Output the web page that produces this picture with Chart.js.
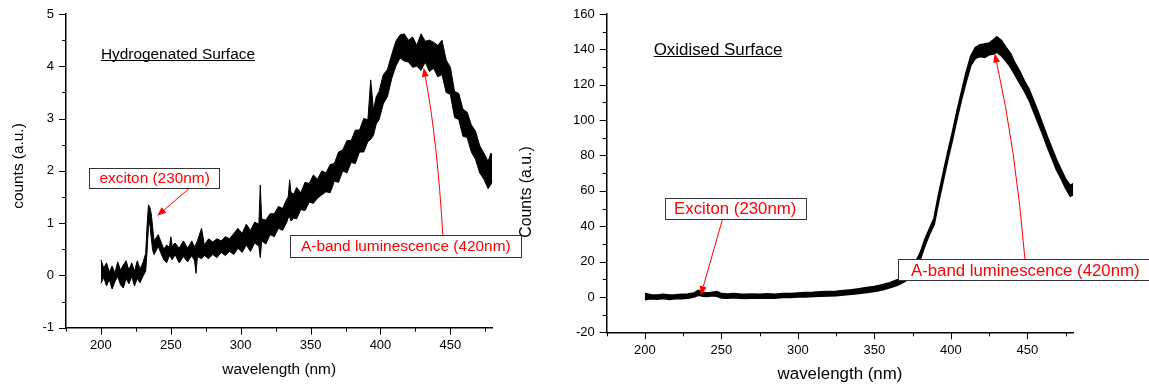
<!DOCTYPE html>
<html>
<head>
<meta charset="utf-8">
<script src="https://cdn.jsdelivr.net/npm/chart.js@4.4.0/dist/chart.umd.min.js"></script>
<style>
  body { margin: 0; background: #fff; }
  #wrap { position: relative; width: 1149px; height: 384px; overflow: hidden; }
  canvas { position: absolute; top: 0; }
</style>
</head>
<body>
<div id="wrap">
  <canvas id="graficoH" width="540" height="384" style="left:0px"></canvas>
  <canvas id="graficoO" width="649" height="384" style="left:500px"></canvas>
</div>
<script>
// ticks (same wavelength axis on both panels)
var xTicks = [175, 200, 225, 250, 275, 300, 325, 350, 375, 400, 425, 450, 475];
var xLabels = [200, 250, 300, 350, 400, 450];
var hTicks = [-1, -0.5, 0, 0.5, 1, 1.5, 2, 2.5, 3, 3.5, 4, 4.5, 5];
var hLabels = [-1, 0, 1, 2, 3, 4, 5];
var oTicks = [-20, -10, 0, 10, 20, 30, 40, 50, 60, 70, 80, 90, 100, 110, 120, 130, 140, 150, 160];
var oLabels = [-20, 0, 20, 40, 60, 80, 100, 120, 140, 160];

// hydrogenated surface: noisy trace, read as lower / upper edge of the band
var hWave = [200, 202, 204, 206, 208, 210, 212, 214, 216, 218, 220, 222, 224, 226, 228, 230, 232, 233, 234, 235,
             236, 237, 238, 240, 241, 243, 245, 247, 249, 250, 251, 253, 256, 259, 262, 265, 267, 268, 269, 272,
             274, 277, 280, 283, 286, 289, 292, 295, 298, 301, 304, 307, 310, 313, 314, 315, 318, 321, 324, 327,
             330, 333, 334, 335, 336, 338, 340, 343, 346, 349, 352, 355, 358, 361, 364, 367, 370, 373, 376, 379,
             382, 385, 388, 391, 393, 395, 397, 399, 402, 405, 408, 411, 414, 417, 420, 423, 426, 429, 432, 435,
             438, 441, 444, 447, 450, 453, 456, 459, 462, 465, 468, 471, 474, 477, 479, 480];
var hLow  = [-0.15, -0.04, -0.20, -0.08, -0.26, -0.12, -0.02, -0.18, -0.24, -0.06, -0.16, -0.02, -0.20, -0.06, -0.14, -0.02, 0.08, 0.45, 0.95, 0.98,
             0.72, 0.48, 0.40, 0.50, 0.56, 0.42, 0.30, 0.24, 0.38, 0.34, 0.30, 0.40, 0.24, 0.36, 0.26, 0.38, 0.28, 0.04, 0.36, 0.32,
             0.38, 0.32, 0.40, 0.34, 0.44, 0.38, 0.46, 0.40, 0.52, 0.44, 0.58, 0.46, 0.62, 0.56, 0.34, 0.66, 0.60, 0.78, 0.74, 0.90,
             0.86, 1.02, 1.10, 1.12, 1.04, 1.10, 1.08, 1.26, 1.24, 1.40, 1.38, 1.48, 1.54, 1.60, 1.58, 1.80, 1.78, 2.00, 1.96, 2.16,
             2.14, 2.36, 2.36, 2.56, 2.60, 2.68, 2.90, 2.98, 3.28, 3.42, 3.76, 4.00, 4.16, 4.10, 4.08, 3.98, 4.00, 3.92, 4.08, 3.90,
             3.96, 3.80, 3.84, 3.50, 3.46, 3.02, 2.98, 2.66, 2.64, 2.36, 2.22, 1.96, 1.84, 1.66, 1.74, 1.80];
var hHigh = [0.30, 0.14, 0.24, 0.06, 0.18, 0.04, 0.26, 0.10, 0.20, 0.28, 0.10, 0.24, 0.08, 0.28, 0.12, 0.24, 0.42, 0.95, 1.35, 1.30,
             1.18, 0.92, 0.66, 0.74, 0.78, 0.64, 0.50, 0.58, 0.54, 0.74, 0.56, 0.62, 0.52, 0.66, 0.52, 0.66, 0.54, 0.60, 0.66, 0.90,
             0.58, 0.70, 0.64, 0.70, 0.66, 0.74, 0.70, 0.80, 0.90, 0.80, 0.98, 0.86, 1.02, 0.98, 1.73, 1.08, 1.06, 1.18, 1.18, 1.32,
             1.28, 1.46, 1.50, 1.83, 1.58, 1.56, 1.68, 1.58, 1.78, 1.76, 1.92, 1.84, 2.00, 1.96, 2.12, 2.14, 2.36, 2.40, 2.58, 2.58,
             2.78, 2.78, 3.00, 2.98, 3.74, 3.16, 3.42, 3.52, 3.84, 3.94, 4.22, 4.48, 4.60, 4.62, 4.50, 4.56, 4.40, 4.62, 4.48, 4.50,
             4.46, 4.40, 4.50, 4.12, 3.98, 3.52, 3.48, 3.18, 3.12, 2.88, 2.76, 2.48, 2.34, 2.18, 2.34, 2.28];

// oxidised surface
var oWave = [200, 204, 208, 212, 216, 220, 224, 228, 232, 235, 238, 241, 244, 247, 250, 254, 258, 262, 266, 270,
             275, 280, 285, 290, 295, 300, 305, 310, 315, 320, 325, 330, 335, 340, 345, 350, 355, 360, 365, 370,
             375, 380, 383, 386, 389, 392, 395, 398, 401, 404, 407, 410, 413, 416, 419, 422, 425, 428, 430, 433,
             436, 439, 442, 445, 448, 451, 454, 457, 460, 463, 466, 469, 472, 475, 478, 480];
var oLow  = [-1.5, -1.0, -1.2, -0.8, -1.3, -1.0, -0.9, -0.6, 0.0, 1.0, 0.5, 0.3, 0.8, 0.5, -0.5, -0.6, -0.4, -0.6, -0.8, -0.5,
             -0.6, -0.5, -0.6, -0.3, -0.2, 0.0, 0.1, 0.3, 0.5, 0.6, 0.8, 1.2, 1.6, 2.0, 2.6, 3.2, 4.0, 5.2, 6.6, 8.8,
             13.0, 21.5, 29.0, 35.5, 41.0, 54.0, 66.0, 78.0, 89.0, 101.0, 112.0, 122.0, 131.0, 135.0, 136.0, 135.5, 137.0, 137.5, 138.5, 136.5,
             133.5, 130.0, 125.5, 121.0, 116.5, 111.5, 105.0, 98.5, 92.0, 85.0, 78.5, 72.0, 67.0, 61.5, 57.0, 58.0];
var oHigh = [1.8, 1.2, 1.0, 1.4, 1.0, 1.2, 1.5, 1.6, 2.2, 3.6, 2.6, 2.2, 2.6, 3.0, 1.8, 1.6, 1.8, 1.6, 1.5, 1.6,
             1.5, 1.7, 1.5, 1.8, 1.9, 2.2, 2.4, 2.5, 2.8, 3.0, 3.2, 3.6, 4.0, 4.6, 5.2, 5.8, 6.8, 8.0, 9.6, 11.8,
             16.2, 25.0, 32.5, 38.5, 44.5, 58.0, 70.0, 82.0, 93.0, 105.0, 116.0, 127.0, 136.0, 141.0, 142.5, 143.0, 143.5, 145.5, 147.0, 145.0,
             141.0, 137.5, 132.0, 127.5, 122.0, 117.5, 111.0, 104.5, 97.5, 90.5, 84.0, 77.5, 72.0, 66.5, 63.0, 64.0];

var FUENTE = "'Liberation Sans', Arial, Helvetica, sans-serif";
Chart.defaults.font.family = FUENTE;

function banda(wave, vals) {
    return wave.map(function (w, i) { return { x: w, y: vals[i] }; });
}

function pix(chart, p) {
    return [chart.scales.x.getPixelForValue(p[0]), chart.scales.y.getPixelForValue(p[1])];
}

// minor/major tick marks, y title, headings, boxed notes and red arrows
var decor = {
    id: 'decor',
    afterDraw: function (chart, args, o) {
        var c = chart.ctx, xs = chart.scales.x, ys = chart.scales.y;
        c.save();
        c.strokeStyle = '#000';
        c.lineWidth = 1;
        xs.ticks.forEach(function (t) {
            var px = Math.round(xs.getPixelForValue(t.value)) + 0.5;
            var len = t.label === '' ? o.minor : o.major;
            c.beginPath(); c.moveTo(px, xs.top); c.lineTo(px, xs.top + len); c.stroke();
        });
        ys.ticks.forEach(function (t) {
            var py = Math.round(ys.getPixelForValue(t.value)) + 0.5;
            var len = t.label === '' ? o.minor : o.major;
            c.beginPath(); c.moveTo(ys.right, py); c.lineTo(ys.right - len, py); c.stroke();
        });
        c.restore();

        // y axis title
        c.save();
        c.fillStyle = '#000';
        c.font = o.yTitle.size + 'px ' + FUENTE;
        c.textAlign = 'center';
        c.textBaseline = 'middle';
        c.translate(o.yTitle.x, o.yTitle.y);
        c.rotate(-Math.PI / 2);
        c.fillText(o.yTitle.text, 0, 0);
        c.restore();

        // underlined heading
        c.save();
        var h = o.heading, hp = pix(chart, [h.x, h.y]);
        c.font = h.size + 'px ' + FUENTE;
        c.fillStyle = '#000';
        c.textAlign = 'left';
        c.textBaseline = 'alphabetic';
        c.fillText(h.text, hp[0], hp[1]);
        var w = c.measureText(h.text).width;
        c.lineWidth = 1;
        c.strokeStyle = '#000';
        c.beginPath(); c.moveTo(hp[0], Math.round(hp[1]) + 1.5); c.lineTo(hp[0] + w, Math.round(hp[1]) + 1.5); c.stroke();
        c.restore();

        // arrows first, boxes on top
        o.arrows.forEach(function (a) {
            var p0 = pix(chart, a.from), p2 = pix(chart, a.to);
            var pc = a.via ? pix(chart, a.via) : p0;
            var ang = Math.atan2(p2[1] - pc[1], p2[0] - pc[0]);
            var hl = 9, hw = 3.5;
            var bx = p2[0] - hl * Math.cos(ang), by = p2[1] - hl * Math.sin(ang);
            c.save();
            c.strokeStyle = '#ff0000';
            c.fillStyle = '#ff0000';
            c.lineWidth = 1;
            c.beginPath();
            c.moveTo(p0[0], p0[1]);
            if (a.via) c.quadraticCurveTo(pc[0], pc[1], bx, by);
            else c.lineTo(bx, by);
            c.stroke();
            c.beginPath();
            c.moveTo(p2[0], p2[1]);
            c.lineTo(bx + hw * Math.sin(ang), by - hw * Math.cos(ang));
            c.lineTo(bx - hw * Math.sin(ang), by + hw * Math.cos(ang));
            c.closePath();
            c.fill();
            c.restore();
        });

        o.boxes.forEach(function (b) {
            var bp = pix(chart, [b.x, b.y]);
            c.save();
            c.font = b.size + 'px ' + FUENTE;
            var tw = c.measureText(b.text).width;
            var bw = tw + 2 * b.padX;
            var x0 = Math.round(bp[0] - bw / 2) + 0.5, y0 = Math.round(bp[1] - b.h / 2) + 0.5;
            c.fillStyle = '#fff';
            c.fillRect(x0, y0, bw, b.h);
            c.strokeStyle = '#333';
            c.lineWidth = 1;
            c.strokeRect(x0, y0, Math.round(bw), b.h);
            c.fillStyle = '#ff0000';
            c.textAlign = 'center';
            c.textBaseline = 'middle';
            c.fillText(b.text, bp[0], bp[1] + 1);
            c.restore();
        });
    }
};

function grafico(id, wave, lo, hi, eje, aj) {
    var ctx = document.getElementById(id).getContext('2d');
    return new Chart(ctx, {
        type: 'line',
        data: {
            datasets: [
                { data: banda(wave, lo), borderColor: '#000', borderWidth: aj.lineWidth, pointRadius: 0, tension: 0, fill: false },
                { data: banda(wave, hi), borderColor: '#000', borderWidth: aj.lineWidth, pointRadius: 0, tension: 0,
                  backgroundColor: '#000', fill: '-1' }
            ]
        },
        options: {
            responsive: false,
            animation: false,
            layout: { padding: aj.padding },
            plugins: { legend: { display: false }, tooltip: { enabled: false }, decor: aj.decor },
            scales: {
                x: {
                    type: 'linear', min: 175, max: 480,
                    afterBuildTicks: function (s) { s.ticks = xTicks.map(function (v) { return { value: v }; }); },
                    afterFit: function (s) { s.height = aj.xHeight; },
                    grid: { display: false, tickLength: 7 },
                    border: { color: '#000', width: 1.5 },
                    ticks: {
                        autoSkip: false, maxRotation: 0, padding: 3, color: '#000', font: { size: 13 },
                        callback: function (v) { return xLabels.indexOf(v) >= 0 ? String(v) : ''; }
                    },
                    title: { display: true, text: 'wavelength (nm)', color: '#000',
                             font: { size: aj.titleSize }, padding: { top: 0, bottom: aj.xTitlePad } }
                },
                y: {
                    type: 'linear', min: eje.ticks[0], max: eje.ticks[eje.ticks.length - 1],
                    afterBuildTicks: function (s) { s.ticks = eje.ticks.map(function (v) { return { value: v }; }); },
                    afterFit: function (s) { s.width = aj.yWidth; },
                    grid: { display: false, tickLength: 7 },
                    border: { color: '#000', width: 1.5 },
                    ticks: {
                        autoSkip: false, padding: 5, color: '#000', font: { size: 13 },
                        callback: function (v) { return eje.labels.indexOf(v) >= 0 ? String(v) : ''; }
                    }
                }
            }
        },
        plugins: [decor]
    });
}

grafico('graficoH', hWave, hLow, hHigh, { ticks: hTicks, labels: hLabels }, {
    padding: { left: 0, top: 14, right: 47.7, bottom: 0 },
    yWidth: 66, xHeight: 56.3, titleSize: 15.4, xTitlePad: 5.5, lineWidth: 1,
    decor: {
        minor: 4, major: 7,
        yTitle: { text: 'counts (a.u.)', x: 19, y: 166, size: 15.4 },
        heading: { text: 'Hydrogenated Surface', x: 200, y: 4.14, size: 15.4 },
        boxes: [
            { text: 'exciton (230nm)', x: 238.4, y: 1.87, size: 15.4, padX: 10, h: 20 },
            { text: 'A-band luminescence (420nm)', x: 418.1, y: 0.56, size: 15.4, padX: 10.5, h: 22 }
        ],
        arrows: [
            { from: [263.9, 1.68], to: [240.2, 1.14] },
            { from: [444.7, 0.736], via: [440.6, 2.59], to: [430.9, 3.97] }
        ]
    }
});

grafico('graficoO', oWave, oLow, oHigh, { ticks: oTicks, labels: oLabels }, {
    padding: { left: 0, top: 14, right: 75.7, bottom: 0 },
    yWidth: 106.7, xHeight: 51.7, titleSize: 16.9, xTitlePad: 0, lineWidth: 1.8,
    decor: {
        minor: 4, major: 7,
        yTitle: { text: 'Counts (a.u.)', x: 27, y: 192, size: 15.8 },
        heading: { text: 'Oxidised Surface', x: 205.7, y: 136.8, size: 16.9 },
        boxes: [
            { text: 'Exciton (230nm)', x: 259, y: 50.1, size: 16.8, padX: 9.5, h: 21 },
            { text: 'A-band luminescence (420nm)', x: 448.6, y: 15.3, size: 16.8, padX: 12.7, h: 21 }
        ],
        arrows: [
            { from: [250.7, 44], to: [236.5, 1.0] },
            { from: [448.4, 21.2], via: [442.3, 84.2], to: [428.6, 137.7] }
        ]
    }
});
</script>
</body>
</html>
